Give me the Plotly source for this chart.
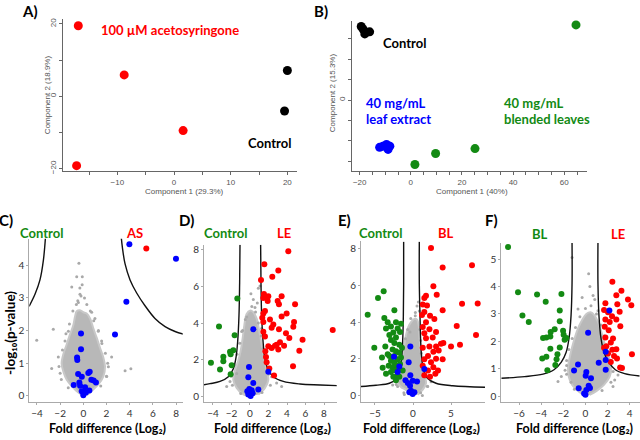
import plotly.graph_objects as go

W, H = 640, 440
FONT = "Lato"
RED, GREEN, BLUE, GREY = "#ff0000", "#138a13", "#0000ff", "#a9a9a9"

# ---------------- Panel A (PCA) ----------------
a_ctrl_x = [20.0, 19.5]
a_ctrl_y = [7.1, -4.1]
a_as_x = [-16.9, -8.8, 1.6, -17.2]
a_as_y = [19.5, 5.9, -9.5, -19.2]

# ---------------- Panel B (PCA) ----------------
b_ctrl_x = [-18.7, -17.4, -16.1, -19.4, -18.0]
b_ctrl_y = [17.4, 16.6, 16.7, 18.0, 16.2]
b_le_x = [-12.2, -9.5, -8.9, -10.9, -8.2]
b_le_y = [-11.6, -10.9, -12.1, -11.3, -11.3]
b_bl_x = [1.6, 9.7, 25.1, 64.6]
b_bl_y = [-15.8, -13.1, -11.9, 18.4]

# ---------------- Panel C volcano ----------------
c_cloud_x = [0.0, -0.43, -1.0, -1.43, -1.72, -1.87, -1.72, -1.43, -1.15, -0.86, -0.72, -0.57, -0.29, 0.0, 0.29, 0.58, 0.86, 1.15, 1.43, 1.72, 1.87, 1.72, 1.29, 0.72, 0.29]
c_cloud_y = [0.0, 0.10, 0.30, 0.49, 0.74, 0.99, 1.28, 1.58, 1.88, 2.17, 2.42, 2.59, 2.62, 2.56, 2.52, 2.37, 2.07, 1.78, 1.48, 1.18, 0.89, 0.59, 0.35, 0.15, 0.02]
c_grey_x = [-0.38, -0.57, -0.09, -1.0, -0.29, -0.48, -0.2, -0.43, -4.02, -2.59, -2.73, -2.16, 2.44, 3.6, 4.1, 2.16, 0.72, 1.0, -1.58, 1.58, -2.0, 2.01, -1.29, 1.29, -0.72, 0.43,
            -1.9, -2.1, -1.8, -1.5, -1.2, -0.9, -0.6, 0.3, 0.6, 0.9, 1.3, 1.6, 1.9, 2.1, 2.0, 1.5, -1.3, -0.3, 0.1, -0.1]
c_grey_y = [4.06, 3.65, 3.65, 3.33, 3.11, 2.91, 3.06, 2.86, 1.70, 2.04, 0.84, 1.19, 1.19, 0.77, 0.83, 0.89, 2.56, 2.37, 1.68, 1.68, 0.69, 0.59, 1.98, 1.98, 0.30, 0.30,
            0.5, 0.9, 1.4, 1.9, 2.2, 2.6, 2.8, 2.8, 2.6, 2.3, 2.0, 1.6, 1.3, 1.0, 0.6, 0.3, 0.25, 3.3, 3.0, 3.4]
c_blue_x = [3.97, 7.99, 3.71, 2.73, -0.20, -0.20, -0.54, -0.52, -0.45, -0.13, 0.43, 0.55, 0.69, 0.89, 1.09, -0.83, -0.34, -0.28, 0.15, -0.14, 0.52, 0.02, 0.0, 0.22]
c_blue_y = [4.64, 4.20, 2.88, 1.88, 1.91, 1.43, 1.17, 1.10, 0.67, 0.58, 0.70, 0.74, 0.49, 0.47, 0.41, 0.33, 0.41, 0.31, 0.26, 0.14, 0.16, 0.07, 0.02, 0.10]
c_red_x = [5.43]
c_red_y = [4.51]
c_curveL_x = [-3.25, -3.45, -3.74, -4.17, -4.68]
c_curveL_y = [4.93, 4.14, 3.55, 3.11, 2.74]
c_curveR_x = [3.25, 3.37, 3.6, 4.03, 4.6, 5.32, 6.18, 7.05, 7.91, 8.63]
c_curveR_y = [4.93, 4.54, 4.04, 3.55, 3.15, 2.76, 2.37, 2.12, 1.97, 1.89]

# ---------------- Panel D volcano ----------------
d_cloud_x = [0.0, -0.72, -1.44, -1.8, -1.62, -1.26, -1.01, -0.79, -0.61, -0.36, 0.0, 0.36, 0.72, 1.01, 1.26, 1.51, 1.8, 1.98, 1.62, 0.9]
d_cloud_y = [0.0, 0.1, 0.46, 0.90, 1.42, 1.95, 2.48, 3.18, 3.89, 4.5, 4.68, 4.59, 4.24, 3.54, 2.83, 2.13, 1.42, 0.90, 0.46, 0.1]
d_grey_x = [1.08, 0.9, 0.79, 0.36, -0.36, 0.54, 2.88, 3.42, -2.16, -2.52, 2.34, -1.44, -0.9, 1.26,
            -1.9, -2.0, -1.7, -1.4, -1.1, -0.8, -0.5, 0.2, 0.6, 0.9, 1.2, 1.4, 1.7, 2.0, 2.2, 1.3, -1.0, 0.1]
d_grey_y = [6.03, 5.9, 5.1, 5.29, 4.33, 4.85, 0.72, 0.54, 0.81, 0.54, 1.07, 1.25, 3.54, 3.71,
            0.6, 1.1, 1.7, 2.3, 2.9, 3.6, 4.2, 4.9, 4.6, 4.0, 3.3, 2.6, 1.9, 1.2, 0.6, 0.2, 0.15, 5.6]
d_green_x = [-1.37, -3.35, -1.66, -1.8, -2.16, -2.88, -2.09, -4.22, -2.88, -1.98, -3.24, -2.09]
d_green_y = [5.34, 3.81, 3.34, 2.51, 2.44, 2.16, 2.30, 1.83, 1.91, 1.70, 1.46, 1.20]
d_red_x = [4.14, 1.55, 3.06, 2.41, 1.19, 1.51, 1.80, 1.98, 1.44, 1.91, 3.42, 2.99, 3.13, 4.87, 1.44, 3.96, 1.62, 1.33, 3.42, 2.16, 4.76, 2.52, 2.34, 1.44, 3.13, 1.44, 4.68, 3.89, 4.25, 1.62, 5.68, 8.94, 3.24, 2.88, 2.7, 3.68, 1.98, 2.34, 3.06, 5.33, 1.66, 1.73, 1.8, 4.65, 2.09, 2.6]
d_red_y = [7.93, 7.22, 6.88, 6.53, 6.35, 5.59, 5.43, 5.46, 5.37, 5.20, 5.46, 5.20, 5.03, 5.03, 4.53, 4.53, 4.66, 4.29, 4.36, 4.20, 4.06, 3.92, 3.74, 4.06, 3.66, 3.53, 3.80, 3.45, 3.18, 3.27, 3.09, 3.62, 2.95, 2.82, 2.76, 2.76, 2.73, 2.64, 2.55, 2.49, 2.46, 2.15, 1.86, 1.64, 1.52, 1.14]
d_blue_x = [0.36, -0.11, -0.18, 0.36, 0.9, 1.98, -0.29, 0.0, 0.18, -0.18, 0.07, 0.29, -0.07]
d_blue_y = [3.66, 1.60, 1.04, 0.73, 0.37, 1.34, 0.28, 0.19, 0.33, 0.10, 0.02, 0.16, 0.40]
d_curveL_x = [-1.08, -1.12, -1.19, -1.33, -1.51, -1.8, -2.34, -3.24, -4.32, -4.97]
d_curveL_y = [8.28, 6.17, 4.41, 3.0, 2.13, 1.51, 1.07, 0.81, 0.69, 0.63]
d_curveR_x = [1.15, 1.19, 1.26, 1.41, 1.59, 1.91, 2.52, 3.6, 5.41, 7.57, 9.55]
d_curveR_y = [8.28, 6.17, 4.41, 3.0, 2.13, 1.51, 1.07, 0.81, 0.67, 0.62, 0.58]

# ---------------- Panel E volcano ----------------
e_cloud_x = [-0.13, -0.92, -1.58, -2.02, -1.89, -1.58, -1.36, -1.14, -0.92, -0.61, -0.26, 0.18, 0.53, 0.75, 0.83, 0.97, 1.18, 1.49, 1.71, 1.28, 0.62]
e_cloud_y = [0.0, 0.3, 0.47, 0.75, 1.19, 1.72, 2.25, 2.77, 3.30, 3.74, 4.0, 4.18, 4.14, 3.82, 3.30, 2.6, 1.89, 1.19, 0.67, 0.32, 0.05]
e_grey_x = [0.53, 0.31, 0.83, -0.39, -2.02, -2.68, 1.93, 2.37, -1.14, 1.23,
            -2.2, -2.1, -1.7, -1.5, -1.3, -1.0, -0.7, -0.3, 0.3, 0.9, 1.0, 1.1, 1.35, 1.6, 1.9, 1.0, -1.2, 0.7]
e_grey_y = [4.88, 4.53, 4.61, 3.47, 0.49, 0.58, 0.49, 0.75, 0.05, 0.0,
            0.6, 1.0, 1.5, 2.0, 2.5, 3.1, 3.6, 4.2, 4.35, 3.6, 3.0, 2.3, 1.6, 1.0, 0.5, 0.15, 0.15, 5.1]
e_green_x = [-3.86, -4.6, -5.96, -2.45, -3.77, -3.33, -2.24, -1.58, -2.9, -3.55, -2.02, -2.59, -1.71, -3.11, -2.24, -2.9, -5.09, -3.64, -2.45, -1.8, -4.08, -3.11, -2.68, -2.24, -1.8, -2.9, -2.46, -2.02, -1.58, -3.2, -2.68, -2.16, -1.71, -2.9, -2.33, -1.89, -3.55, -2.02, -2.59, -2.24, -3.99, -3.33, -2.46, -1.45, -1.36, -1.8]
e_green_y = [5.68, 5.32, 4.4, 4.65, 4.23, 4.0, 4.0, 3.91, 3.77, 3.65, 3.65, 3.44, 3.47, 3.30, 3.16, 3.03, 2.60, 2.68, 2.86, 2.77, 2.07, 2.16, 2.51, 2.42, 2.33, 1.89, 1.80, 1.98, 2.07, 1.63, 1.54, 1.63, 1.72, 1.28, 1.37, 1.46, 1.19, 1.10, 1.02, 0.84, 1.51, 2.25, 2.16, 2.6, 1.37, 1.02]
e_red_x = [2.37, 7.76, 3.9, 2.68, 3.12, 1.71, 1.49, 6.45, 8.51, 1.28, 1.84, 3.9, 1.49, 1.18, 2.24, 2.81, 1.71, 5.75, 1.28, 2.16, 3.03, 1.49, 8.29, 2.59, 1.71, 3.99, 3.68, 3.03, 5.0, 6.18, 2.16, 1.28, 2.68, 3.38, 3.9, 1.97, 1.49, 2.37, 3.03, 1.28, 2.68, 1.97, 3.29, 1.49, 2.94, 2.24]
e_red_y = [8.04, 7.10, 6.98, 5.96, 5.49, 5.44, 5.32, 5.0, 5.02, 4.96, 4.91, 4.65, 4.56, 4.39, 4.35, 4.18, 4.0, 3.79, 3.74, 3.61, 3.47, 3.39, 3.30, 3.16, 3.12, 2.86, 2.82, 2.68, 2.68, 2.77, 2.68, 2.60, 2.39, 2.46, 1.98, 2.16, 1.98, 1.81, 2.0, 1.63, 1.54, 1.37, 1.37, 1.10, 1.19, 1.02]
e_blue_x = [-0.35, -2.5, -1.8, -2.02, -0.57, -0.35, 1.49, -0.99, -0.68, -0.04, 0.53, -0.39, -0.26, -0.04, -0.48, 0.18]
e_blue_y = [2.68, 2.12, 1.58, 1.28, 1.81, 1.1, 1.44, 0.84, 0.68, 0.8, 0.77, 0.53, 0.26, 0.09, 0.18, 0.18]
e_curveL_x = [-1.23, -1.23, -1.27, -1.36, -1.49, -1.71, -2.15, -3.11, -4.87, -6.84]
e_curveL_y = [8.38, 6.11, 4.35, 2.95, 2.07, 1.37, 0.93, 0.67, 0.56, 0.49]
e_curveR_x = [0.83, 0.83, 0.92, 1.01, 1.14, 1.4, 1.93, 3.03, 5.22, 9.6]
e_curveR_y = [8.38, 6.11, 4.35, 2.95, 2.07, 1.37, 0.93, 0.67, 0.53, 0.45]

# ---------------- Panel F volcano ----------------
f_cloud_x = [-0.01, -0.67, -1.21, -1.51, -1.57, -1.42, -1.21, -0.97, -0.67, -0.31, 0.08, 0.47, 0.83, 1.13, 1.43, 1.67, 2.04, 2.34, 2.19, 1.67, 0.98, 0.38]
f_cloud_y = [0.0, 0.18, 0.41, 0.71, 1.06, 1.41, 1.77, 2.12, 2.47, 2.77, 3.0, 3.06, 2.94, 2.71, 2.35, 2.0, 1.53, 1.06, 0.71, 0.41, 0.18, 0.04]
f_grey_x = [-1.21, 0.29, 0.69, 0.84, -1.7, -1.84, -2.48, 2.64, 2.94, -0.67, 1.13, -2.18, 2.49,
            -1.7, -1.7, -1.5, -1.2, -0.9, -0.5, 0.0, 0.5, 1.0, 1.4, 1.7, 2.0, 2.3, 2.5, 2.3, 1.5, -1.0, -1.3, 0.4, -0.3]
f_grey_y = [5.06, 4.47, 3.67, 3.53, 1.12, 0.94, 0.53, 0.59, 0.77, 3.18, 3.12, 0.71, 0.35,
            0.8, 1.3, 1.7, 2.1, 2.5, 2.9, 3.2, 3.3, 3.0, 2.6, 2.2, 1.8, 1.3, 0.9, 0.5, 0.2, 0.25, 0.5, 4.0, 3.6]
f_green_x = [-6.99, -6.09, -4.37, -2.17, -3.59, -5.69, -5.12, -2.32, -2.32, -2.78, -3.14, -3.17, -3.53, -3.83, -1.97, -1.88, -2.02, -1.72, -3.17, -2.32, -2.53, -3.53, -3.9, -2.61, -3.44, -2.72]
f_green_y = [5.45, 3.79, 3.71, 3.73, 3.45, 2.94, 2.71, 3.13, 2.73, 2.44, 2.34, 2.18, 2.14, 2.12, 2.24, 2.06, 2.39, 2.12, 1.73, 1.77, 1.53, 1.44, 1.37, 1.34, 0.94, 1.13]
f_red_x = [2.43, 3.25, 2.79, 3.84, 4.14, 1.80, 2.88, 3.09, 1.68, 2.04, 2.4, 1.80, 2.19, 2.79, 3.15, 1.74, 2.1, 2.49, 1.80, 2.29, 1.89, 2.43, 2.79, 2.04, 2.58, 2.85, 4.2, 2.29, 3.13, 3.3, 1.68]
f_red_y = [4.18, 3.85, 3.68, 3.53, 3.32, 3.39, 3.35, 3.08, 3.14, 3.06, 2.92, 2.80, 2.71, 2.80, 2.55, 2.53, 2.40, 2.10, 2.14, 1.96, 1.82, 1.69, 1.71, 1.55, 1.46, 1.37, 1.53, 1.24, 1.04, 1.02, 1.76]
f_blue_x = [2.16, 0.24, 1.83, 1.83, 1.83, 1.2, -0.67, -1.03, 0.08, 0.02, 0.5, -0.61, 0.29, 0.41, 0.08, -0.12, 0.0]
f_blue_y = [3.13, 2.31, 1.62, 1.32, 0.96, 1.22, 1.15, 0.93, 0.88, 0.74, 0.65, 0.28, 0.38, 0.29, 0.22, 0.09, 0.05]
f_curveL_x = [-1.21, -1.21, -1.3, -1.48, -1.75, -2.18, -2.84, -3.83, -5.49, -7.6]
f_curveL_y = [5.59, 4.12, 2.94, 2.12, 1.59, 1.24, 0.96, 0.80, 0.71, 0.65]
f_curveR_x = [1.13, 1.13, 1.22, 1.4, 1.68, 2.1, 2.7, 3.54, 4.9]
f_curveR_y = [5.59, 4.12, 2.94, 2.12, 1.59, 1.24, 0.96, 0.82, 0.73]

fig = go.Figure()


def pts(x, y, ax, color, size):
    fig.add_trace(go.Scatter(x=x, y=y, xaxis=ax[0], yaxis=ax[1], mode="markers",
                             marker=dict(color=color, size=size, line=dict(width=0)),
                             showlegend=False, hoverinfo="skip", cliponaxis=False))


def volcano(ax, cloud_x, cloud_y, grey_x, grey_y, lx, ly, rx, ry, groups):
    fig.add_trace(go.Scatter(x=cloud_x, y=cloud_y, xaxis=ax[0], yaxis=ax[1], mode="lines",
                             fill="toself", fillcolor="#b8b8b8", line=dict(width=2, color="#c8c8c8"),
                             line_shape="spline", showlegend=False, hoverinfo="skip"))
    pts(grey_x, grey_y, ax, GREY, 3)
    for cx, cy in ((lx, ly), (rx, ry)):
        fig.add_trace(go.Scatter(x=cx, y=cy, xaxis=ax[0], yaxis=ax[1], mode="lines",
                                 line=dict(color="#111", width=1.4, shape="spline"),
                                 showlegend=False, hoverinfo="skip"))
    for gx, gy, col in groups:
        pts(gx, gy, ax, col, 6)


# PCA panels
pts(a_as_x, a_as_y, ("x", "y"), RED, 9)
pts(a_ctrl_x, a_ctrl_y, ("x", "y"), "#000000", 9)
pts(b_ctrl_x, b_ctrl_y, ("x2", "y2"), "#000000", 9)
pts(b_le_x, b_le_y, ("x2", "y2"), BLUE, 9)
pts(b_bl_x, b_bl_y, ("x2", "y2"), "#138a13", 9)

volcano(("x3", "y3"), c_cloud_x, c_cloud_y, c_grey_x, c_grey_y, c_curveL_x, c_curveL_y,
        c_curveR_x, c_curveR_y, [(c_red_x, c_red_y, RED), (c_blue_x, c_blue_y, BLUE)])
volcano(("x4", "y4"), d_cloud_x, d_cloud_y, d_grey_x, d_grey_y, d_curveL_x, d_curveL_y,
        d_curveR_x, d_curveR_y, [(d_green_x, d_green_y, GREEN), (d_red_x, d_red_y, RED),
                                 (d_blue_x, d_blue_y, BLUE)])
volcano(("x5", "y5"), e_cloud_x, e_cloud_y, e_grey_x, e_grey_y, e_curveL_x, e_curveL_y,
        e_curveR_x, e_curveR_y, [(e_green_x, e_green_y, GREEN), (e_red_x, e_red_y, RED),
                                 (e_blue_x, e_blue_y, BLUE)])
volcano(("x6", "y6"), f_cloud_x, f_cloud_y, f_grey_x, f_grey_y, f_curveL_x, f_curveL_y,
        f_curveR_x, f_curveR_y, [(f_green_x, f_green_y, GREEN), (f_red_x, f_red_y, RED),
                                 (f_blue_x, f_blue_y, BLUE)])

top = dict(showline=True, linecolor="#666", linewidth=1, ticks="outside", ticklen=3,
           tickcolor="#666", showgrid=False, zeroline=False,
           tickfont=dict(size=8, color="#555", family="Liberation Sans"))
bot = dict(showline=True, linecolor="#aaa", linewidth=1, ticks="outside", ticklen=2,
           tickcolor="#aaa", showgrid=False, zeroline=False,
           tickfont=dict(size=10, color="#333", family=FONT))
mtop = dict(ticks="outside", ticklen=3, tickcolor="#666", tick0=0)


def px(x):
    return x / W


def py(y):
    return 1 - y / H


BOT = 405
fig.update_layout(
    width=W, height=H, margin=dict(l=0, r=0, t=0, b=0),
    paper_bgcolor="white", plot_bgcolor="white", showlegend=False,
    xaxis=dict(top, domain=[px(63), px(297)], anchor="y", range=[-19.6, 21.7], dtick=10, tick0=0,
               minor=dict(mtop, dtick=5)),
    yaxis=dict(top, domain=[py(172), py(18)], anchor="x", range=[-20.8, 21.4], dtick=20, tick0=0,
               tickangle=-90, minor=dict(mtop, dtick=10)),
    xaxis2=dict(top, domain=[px(352), px(587)], anchor="y2", range=[-23, 68.9], dtick=20, tick0=0,
                minor=dict(mtop, dtick=5)),
    yaxis2=dict(top, domain=[py(172), py(20)], anchor="x2", range=[-17.5, 19.4], tickvals=[0],
                tickangle=-90, minor=dict(mtop, dtick=5)),
    xaxis3=dict(bot, domain=[px(29.3), px(182.7)], anchor="y3", range=[-4.66, 8.57], dtick=2, tick0=0),
    yaxis3=dict(bot, domain=[py(BOT), py(240)], anchor="x3", range=[-0.2, 4.81], dtick=1, tick0=0),
    xaxis4=dict(bot, domain=[px(204), px(336.7)], anchor="y4", range=[-4.97, 9.37], dtick=2, tick0=0),
    yaxis4=dict(bot, domain=[py(BOT), py(246)], anchor="x4", range=[-0.33, 8.28], dtick=2, tick0=0),
    xaxis5=dict(bot, domain=[px(361), px(485)], anchor="y5", range=[-6.84, 9.47], dtick=5, tick0=0),
    yaxis5=dict(bot, domain=[py(BOT), py(242.7)], anchor="x5", range=[-0.37, 8.4], dtick=2, tick0=0),
    xaxis6=dict(bot, domain=[px(501.3), px(639.7)], anchor="y6", range=[-7.6, 4.9], dtick=2, tick0=0),
    yaxis6=dict(bot, domain=[py(BOT), py(244.3)], anchor="x6", range=[-0.23, 5.59], dtick=1, tick0=0),
)

ann = []


def text(x, y, s, color="#000", size=13, bold=True, anchor="center", angle=0, family=FONT,
         vanchor="middle"):
    ann.append(dict(x=px(x), y=py(y), xref="paper", yref="paper", text=(f"<b>{s}</b>" if bold else s),
                    showarrow=False, xanchor=anchor, yanchor=vanchor, textangle=angle, borderpad=0,
                    font=dict(size=size, color=color, family=family)))


# panel letters
for lx, ly, s in ((30, 10, "A)"), (321, 10, "B)"), (6, 221, "C)"), (186, 221, "D)"),
                  (344, 221, "E)"), (491, 221, "F)")):
    text(lx, ly, s, size=15)

# PCA labels
text(100, 29, "100 µM acetosyringone", RED, 13, anchor="left")
text(247, 143, "Control", "#000", 13, anchor="left")
text(382, 42, "Control", "#000", 13, anchor="left")
text(365, 103, "40 mg/mL", BLUE, 13, anchor="left")
text(365, 119, "leaf extract", BLUE, 13, anchor="left")
text(503, 103, "40 mg/mL", "#138a13", 13, anchor="left")
text(503, 119, "blended leaves", "#138a13", 13, anchor="left")
text(184, 192, "Component 1 (29.3%)", "#555", 8, bold=False, family="Liberation Sans")
text(47, 95, "Component 2 (18.9%)", "#555", 8, bold=False, angle=-90, family="Liberation Sans")
text(472, 192, "Component 1 (40%)", "#555", 8, bold=False, family="Liberation Sans")
text(332, 93, "Component 2 (15.3%)", "#555", 8, bold=False, angle=-90, family="Liberation Sans")

# volcano group labels
text(41.5, 234, "Control", GREEN, 13)
text(134, 234, "AS", RED, 13)
text(225, 234, "Control", GREEN, 13)
text(283.5, 234, "LE", RED, 13)
text(380, 234, "Control", GREEN, 13)
text(445.5, 234, "BL", RED, 13)
text(540, 235, "BL", GREEN, 13)
text(618, 235, "LE", RED, 13)

# axis titles
for cx in (107.5, 272, 421.5, 574):
    text(cx, 440, "Fold difference (Log₂)", "#000", 12.5, vanchor="bottom")
text(10, 335, "-log₁₀(p-value)", "#000", 13.5, angle=-90)

fig.update_layout(annotations=ann)
fig.write_html("out.html")
